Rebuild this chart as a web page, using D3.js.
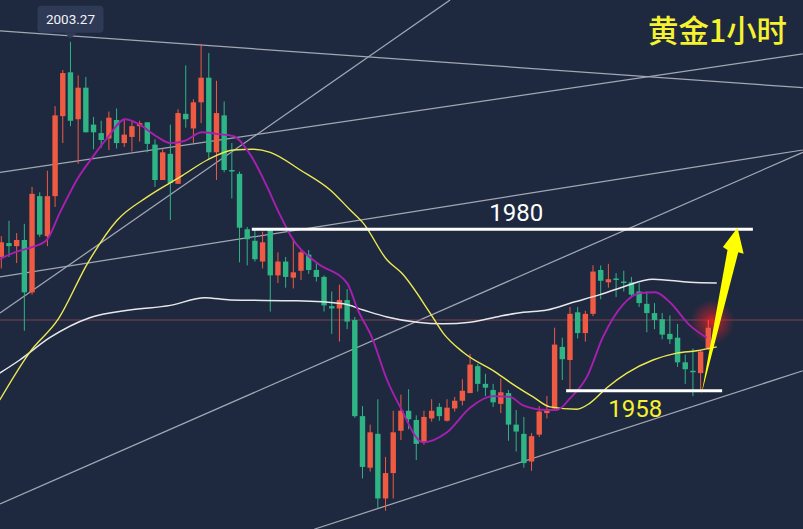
<!DOCTYPE html>
<html><head><meta charset="utf-8">
<style>html,body{margin:0;padding:0;background:#1e2940;overflow:hidden}svg{display:block}</style>
<script src="https://cdn.jsdelivr.net/npm/d3@7"></script></head><body>
<svg id="c" width="803" height="529"></svg>
<script>
const highs=[1978.0,1980.0,1978.4,1979.6,1984.4,1983.7,1986.5,1994.9,1999.6,2003.27,1998.9,1998.7,1993.5,1993.0,1994.2,1994.6,1993.2,1993.0,1993.0,1992.8,1990.6,1989.4,1992.5,1994.5,2000.2,1995.8,2003.0,2001.8,1998.2,1995.5,1990.1,1986.4,1979.2,1978.8,1978.6,1978.8,1975.9,1975.3,1977.7,1976.2,1976.2,1974.5,1972.9,1970.8,1971.7,1971.1,1967.5,1955.9,1953.5,1956.8,1949.3,1955.3,1957.4,1958.1,1954.7,1955.3,1956.8,1956.3,1956.8,1957.1,1959.4,1962.7,1961.4,1960.1,1958.8,1959.5,1958.0,1955.4,1954.5,1952.4,1955.9,1957.2,1966.1,1964.8,1968.8,1968.8,1968.3,1974.2,1974.2,1974.4,1973.2,1973.5,1972.7,1971.9,1970.8,1969.3,1968.0,1967.7,1966.6,1962.6,1963.4,1963.2,1967.1];
const lows=[1973.8,1975.3,1974.5,1965.7,1970.4,1977.9,1976.7,1981.8,1990.1,1992.3,1987.4,1991.5,1989.3,1989.5,1989.2,1989.4,1989.6,1989.0,1990.3,1988.9,1984.4,1985.3,1980.1,1984.8,1992.1,1990.1,1992.7,1988.1,1985.3,1986.3,1982.9,1974.6,1974.2,1974.7,1973.8,1968.2,1971.9,1971.3,1971.2,1972.3,1973.1,1972.1,1968.2,1965.3,1964.3,1965.9,1954.4,1946.5,1947.4,1942.7,1942.3,1943.9,1951.5,1952.9,1948.9,1950.9,1953.9,1954.0,1953.9,1955.2,1956.0,1957.6,1957.8,1957.2,1955.8,1955.0,1951.4,1950.0,1947.9,1947.5,1951.9,1954.3,1955.4,1959.3,1957.8,1964.7,1964.3,1967.6,1969.8,1971.3,1970.1,1970.8,1970.1,1968.8,1965.5,1965.9,1964.6,1964.0,1961.0,1958.8,1957.2,1957.8,1963.2];
const opens=[1975.3,1977.1,1976.7,1977.5,1970.7,1983.2,1978.0,1983.2,1993.6,1999.3,1993.2,1997.3,1992.5,1991.4,1990.7,1993.1,1990.1,1990.9,1992.3,1992.8,1989.9,1985.3,1988.7,1984.8,1993.9,1992.0,1995.4,1998.6,1988.9,1993.7,1986.6,1986.1,1978.9,1977.4,1974.7,1978.8,1972.9,1974.7,1972.6,1973.5,1975.6,1973.6,1972.7,1968.9,1968.6,1969.7,1967.1,1954.6,1947.9,1952.3,1943.9,1947.2,1952.7,1955.3,1954.1,1951.2,1954.3,1955.8,1954.0,1955.6,1956.6,1957.6,1961.1,1958.8,1958.0,1956.2,1957.6,1953.5,1952.3,1948.7,1952.2,1955.0,1955.6,1963.6,1961.9,1968.1,1965.4,1967.9,1973.6,1972.0,1972.5,1972.1,1972.0,1970.8,1969.2,1968.0,1967.2,1965.3,1964.8,1961.6,1960.5,1960.2,1963.4];
const closes=[1977.2,1976.7,1977.5,1970.7,1983.5,1978.2,1983.2,1993.7,1999.2,1993.0,1997.3,1991.5,1991.5,1990.5,1993.4,1990.1,1991.2,1992.3,1992.7,1990.0,1985.3,1988.9,1984.9,1994.0,1993.2,1995.4,1998.6,1988.9,1994.0,1986.6,1986.4,1979.1,1977.6,1975.0,1977.2,1972.9,1974.7,1972.7,1973.3,1975.9,1973.6,1972.7,1969.0,1968.6,1969.7,1966.9,1954.6,1948.0,1952.5,1943.9,1947.2,1952.5,1955.3,1954.2,1951.0,1954.5,1955.3,1954.6,1955.7,1956.6,1957.9,1961.3,1958.8,1958.3,1956.4,1957.7,1953.5,1952.6,1948.5,1952.0,1955.2,1955.5,1963.9,1962.0,1967.9,1965.4,1967.9,1973.4,1972.2,1972.4,1972.3,1972.0,1970.4,1969.3,1968.0,1967.1,1965.2,1964.6,1961.6,1960.7,1960.4,1963.0,1966.1];
const maFast=[[-0.2,1975.0],[1.5,1975.8],[2.7,1976.2],[4.1,1976.6],[5.9,1977.5],[7.6,1981.0],[10,1985.6],[11.9,1988.3],[13.9,1990.9],[16.1,1993.2],[18,1992.5],[20.3,1990.9],[22,1990.1],[23.9,1990.4],[26.1,1991.5],[28,1991.3],[30.2,1991.0],[32.4,1988.6],[34.6,1984.4],[36.1,1981.1],[38,1977.5],[41.1,1974.5],[45,1971.9],[46.4,1968.4],[48.2,1964.9],[50.2,1959.3],[51.9,1955.8],[54.9,1951.2],[58,1952.5],[61,1955.7],[64,1957.2],[66.2,1957.1],[67.9,1956.0],[71,1955.4],[72.3,1955.4],[74,1956.9],[76.2,1959.7],[78.3,1964.9],[80.9,1969.1],[83.1,1970.6],[85.1,1970.7],[87,1969.4],[89.6,1966.4],[91.8,1964.8]];
const maMid=[[-0.2,1956.7],[3.7,1962.9],[7.4,1967.2],[11.3,1974.6],[15.1,1980.1],[19,1983.1],[23.6,1985.9],[26.8,1987.9],[30.2,1989.2],[32.7,1989.3],[35,1988.9],[38.9,1986.6],[42.8,1984.0],[45.4,1981.4],[47.1,1979.7],[50.2,1974.9],[52.1,1973.2],[55.8,1968.0],[57.5,1965.4],[60.1,1962.9],[64.5,1960.2],[66.2,1959.0],[69.2,1957.1],[71.4,1955.8],[74.9,1955.5],[76.6,1956.3],[78.8,1958.3],[81.4,1960.2],[84.8,1961.9],[87.9,1962.8],[90.5,1963.1],[93.1,1963.6]];
const maSlow=[[-0.2,1960.2],[2.4,1961.9],[6.3,1964.8],[11.5,1967.4],[16.7,1968.4],[22,1969.0],[26.5,1970.0],[29.8,1969.7],[38.5,1969.6],[44.5,1969.2],[47.1,1968.4],[50.2,1967.5],[54.1,1966.8],[57.5,1966.6],[61,1966.8],[64.9,1967.6],[67.9,1968.1],[71,1968.4],[74.4,1969.4],[77.9,1970.4],[80.9,1971.4],[84.8,1972.4],[89.6,1972.0],[93.1,1971.9]];
const trendLines=[[[-0.17,2004.7],[104.3,1997.3]],[[-0.17,1986.3],[104.3,2001.7]],[[-0.17,1968.0],[58.4,2008.7]],[[-0.17,1972.7],[104.3,1989.2]],[[-0.17,1943.2],[104.3,1988.9]],[[40.7,1939.9],[104.3,1960.5]]];
const levels=[{label:"1980",value:1978.9,from:32.6,to:97.8,textAt:67,textValue:1980.0,color:"#ffffff"},{label:"1958",value:1957.9,from:73.5,to:93.8,textAt:82.5,textValue:1954.5,color:"#f6f22e"}];
const lastPrice=1967.1;
const arrowPts=[[91.1,1957.4],[94.5,1976.2],[93.9,1976.6],[95.8,1979.1],[96.6,1975.7],[95.9,1975.9]];
const titleText="黄金1小时", peakLabel="2003.27";

const W=803,H=529;
const x=d3.scaleLinear().domain([0,92]).range([1.3,708.3]);
const y=d3.scaleLinear().domain([2008.7,1939.93]).range([0,H]);
const svg=d3.select("#c");
const defs=svg.append("defs");
const grad=defs.append("radialGradient").attr("id","glow");
grad.append("stop").attr("offset","0%").attr("stop-color","#f02020").attr("stop-opacity",.9);
grad.append("stop").attr("offset","45%").attr("stop-color","#e02028").attr("stop-opacity",.45);
grad.append("stop").attr("offset","100%").attr("stop-color","#e02028").attr("stop-opacity",0);
svg.append("rect").attr("width",W).attr("height",H).attr("fill","#1e2940");

const lineFn=d3.line().x(d=>x(d[0])).y(d=>y(d[1]));
svg.append("g").selectAll("path").data(trendLines).join("path").attr("d",lineFn)
  .attr("fill","none").attr("stroke","#a3a7b3").attr("stroke-width",1.25);

svg.append("line").attr("x1",0).attr("x2",W).attr("y1",y(lastPrice)).attr("y2",y(lastPrice)).attr("stroke","#7d4550").attr("stroke-width",1);
svg.append("circle").attr("cx",x(92)+4).attr("cy",y(lastPrice)+2).attr("r",22).attr("fill","url(#glow)");

const RED="#ef5a42",GREEN="#2fb585";
const idx=d3.range(highs.length);
const col=i=>closes[i]>=opens[i]?RED:GREEN;
const g=svg.append("g");
g.selectAll("line").data(idx).join("line")
  .attr("x1",x).attr("x2",x).attr("y1",i=>y(highs[i])).attr("y2",i=>y(lows[i]))
  .attr("stroke",col).attr("stroke-width",1);
g.selectAll("rect").data(idx).join("rect")
  .attr("x",i=>x(i)-2.7).attr("width",5.4)
  .attr("y",i=>y(Math.max(opens[i],closes[i])))
  .attr("height",i=>Math.max(1.5,Math.abs(y(opens[i])-y(closes[i]))))
  .attr("fill",col);

const smooth=d3.line().x(d=>x(d[0])).y(d=>y(d[1])).curve(d3.curveMonotoneX);
[[maSlow,"#e8e8ea",1.5],[maMid,"#eeea50",1.4],[maFast,"#a81fb0",1.9]].forEach(([d,c,w])=>{
  svg.append("path").attr("d",smooth(d)).attr("fill","none").attr("stroke",c).attr("stroke-width",w);
});

levels.forEach(l=>{
  svg.append("line").attr("x1",x(l.from)).attr("x2",x(l.to)).attr("y1",y(l.value)).attr("y2",y(l.value))
    .attr("stroke","#fff").attr("stroke-width",3.2);
  svg.append("text").attr("x",x(l.textAt)).attr("y",y(l.textValue)).attr("text-anchor","middle")
    .attr("font-family","Roboto,'Noto Sans',sans-serif").attr("font-size",24).attr("fill",l.color).text(l.label);
});

svg.append("path").attr("d",lineFn(arrowPts)+"Z").attr("fill","#ffff00");

svg.append("text").attr("x",W-16).attr("y",42).attr("text-anchor","end")
  .attr("font-family","'Noto Sans CJK SC',sans-serif").attr("font-size",30.4).attr("font-weight",500)
  .attr("fill","#f6f22e").text(titleText);

const px=x(9),py=y(2003.27);
const tip=svg.append("g");
tip.append("rect").attr("x",px-33).attr("y",py-36).attr("width",66).attr("height",27).attr("rx",4).attr("fill","#2f3a56");
tip.append("path").attr("d",d3.line()([[px-6,py-9],[px,py-3],[px+6,py-9]])).attr("fill","#2f3a56");
tip.append("text").attr("x",px).attr("y",py-18).attr("text-anchor","middle")
  .attr("font-family","Roboto,Inter,sans-serif").attr("font-size",13.5).attr("fill","#f2f4f8").text(peakLabel);
</script></body></html>
